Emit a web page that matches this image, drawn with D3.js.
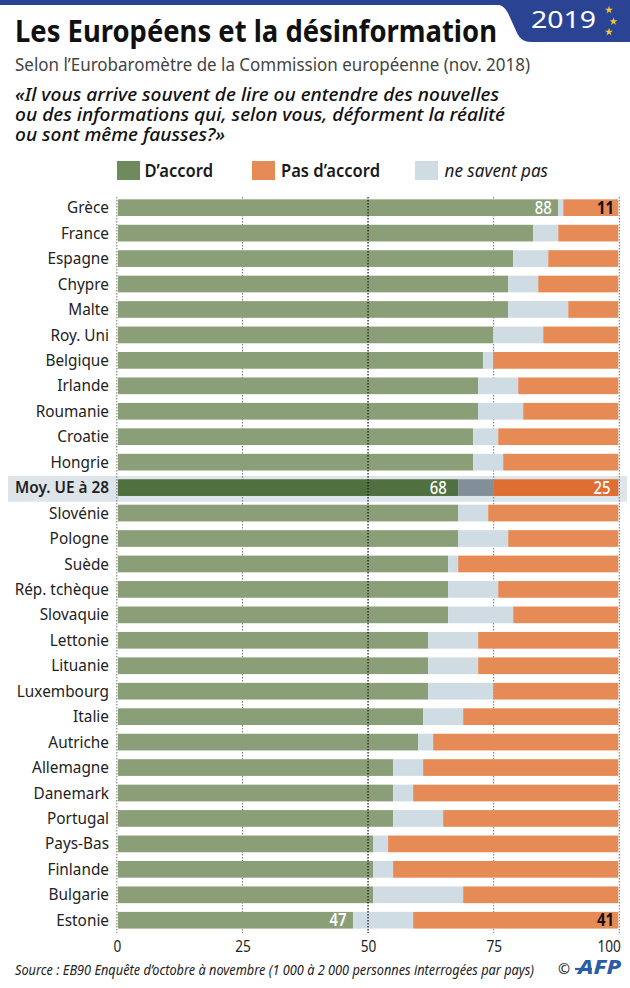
<!DOCTYPE html>
<html lang="fr">
<head>
<meta charset="utf-8">
<script src="https://cdn.jsdelivr.net/npm/d3@7"></script>
<style>
  html, body { margin: 0; padding: 0; background: #fff; }
  svg { display: block; }
  text { font-family: "Noto Sans", sans-serif; }
</style>
</head>
<body>
<div id="chart"></div>
<script>
// Values
const countries = ["Grèce", "France", "Espagne", "Chypre", "Malte", "Roy. Uni", "Belgique", "Irlande", "Roumanie", "Croatie", "Hongrie", "Moy. UE à 28", "Slovénie", "Pologne", "Suède", "Rép. tchèque", "Slovaquie", "Lettonie", "Lituanie", "Luxembourg", "Italie", "Autriche", "Allemagne", "Danemark", "Portugal", "Pays-Bas", "Finlande", "Bulgarie", "Estonie"];
const agree = [88, 83, 79, 78, 78, 75, 73, 72, 72, 71, 71, 68, 68, 68, 66, 66, 66, 62, 62, 62, 61, 60, 55, 55, 55, 51, 51, 51, 47];
const dontKnow = [1, 5, 7, 6, 12, 10, 2, 8, 9, 5, 6, 7, 6, 10, 2, 10, 13, 10, 10, 13, 8, 3, 6, 4, 10, 3, 4, 18, 12];
const disagree = [11, 12, 14, 16, 10, 15, 25, 20, 19, 24, 23, 25, 26, 22, 32, 24, 21, 28, 28, 25, 31, 37, 39, 41, 35, 46, 45, 31, 41];
const labelled = ["Grèce", "Moy. UE à 28", "Estonie"];
const average = "Moy. UE à 28";
const ticks = [0, 25, 50, 75, 100];
const seriesNames = ["D’accord", "Pas d’accord", "ne savent pas"];
const questionLines = ["«Il vous arrive souvent de lire ou entendre des nouvelles", "ou des informations qui, selon vous, déforment la réalité", "ou sont même fausses?»"];

const width = 630, height = 988;
const svg = d3.select("#chart").append("svg").attr("width", width).attr("height", height);

const x = d3.scaleLinear().domain([0, 100]).range([117.9, 618.3]);
const gridX = d3.scaleLinear().domain([0, 100]).range([116.8, 619.3]);
const y = d3.scaleBand().domain(countries).range([194.95, 932.97]).paddingInner(0.344).paddingOuter(0.172);

const colors = { agree: "#8a9f78", dk: "#d0dce3", dis: "#e68a56" };
const avgColors = { agree: "#50703f", dk: "#838f98", dis: "#df6e33" };

// Helper: text squeezed to a measured width, the installed fonts are wider than the original one
function fitted(parent, str, px, py, size, w, opts = {}) {
  return parent.append("text")
    .attr("x", px).attr("y", py)
    .attr("font-size", size)
    .attr("font-weight", opts.weight || 400)
    .attr("font-style", opts.style || "normal")
    .attr("font-family", opts.family || null)
    .attr("fill", opts.fill || "#1a1a1a")
    .attr("text-anchor", opts.anchor || "start")
    .attr("textLength", w)
    .attr("lengthAdjust", "spacingAndGlyphs")
    .text(str);
}

// Same thing, but keeps a fixed share of the natural width
function squeeze(sel, ratio) {
  sel.each(function() {
    const len = this.getComputedTextLength();
    d3.select(this).attr("textLength", len * ratio).attr("lengthAdjust", "spacingAndGlyphs");
  });
}

// Header band
svg.append("rect").attr("width", width).attr("height", 5).attr("fill", "#2b4393");
svg.append("path")
  .attr("d", "M496,4 Q504,5 508,13 L517,33 Q521,42 531,42 L630,42 L630,4 Z")
  .attr("fill", "#2b4393");
fitted(svg, "2019", 531, 28, 24, 65, { family: "Lato", fill: "#fff" });
const star = d3.symbol().type(d3.symbolStar).size(20);
[[609, 10], [613.5, 21.5], [609, 32]].forEach(p => {
  svg.append("path").attr("d", star).attr("transform", `translate(${p[0]},${p[1]})`).attr("fill", "#f4c92f");
});

fitted(svg, "Les Européens et la désinformation", 15, 42, 30, 482, { weight: 700, fill: "#111" });
fitted(svg, "Selon l’Eurobaromètre de la Commission européenne (nov. 2018)", 15, 71, 18.5, 515, { fill: "#444" });

const questionWidths = [484, 490, 210];
questionLines.forEach((line, i) => {
  fitted(svg, line, 15, 101 + i * 20.2, 18.5, questionWidths[i], { style: "italic", weight: 500, fill: "#111" });
});

// Legend
const legendX = [117, 252, 415];
const legendTextX = [144.5, 281, 444.5];
const legendW = [68.5, 99, 103.5];
const legendFill = ["#6f8a5d", colors.dis, colors.dk];
seriesNames.forEach((name, i) => {
  svg.append("rect").attr("x", legendX[i]).attr("y", 161).attr("width", 23).attr("height", 19).attr("fill", legendFill[i]);
  fitted(svg, name, legendTextX[i], 176.7, 17.5, legendW[i], {
    weight: i < 2 ? 600 : 400, style: i === 2 ? "italic" : "normal"
  });
});

// Highlight band of the EU average, behind everything else
svg.append("rect")
  .attr("x", 8).attr("width", 619)
  .attr("y", y(average) - 3.2).attr("height", y.bandwidth() + 9)
  .attr("fill", "#dde5ea");

// Dotted grid lines, only the 50 line goes over the bars
function gridLine(t) {
  svg.append("line")
    .attr("x1", gridX(t)).attr("x2", gridX(t))
    .attr("y1", 197).attr("y2", 933)
    .attr("stroke", t === 50 ? "#222" : "#666")
    .attr("stroke-width", t === 50 ? 1.3 : 0.9)
    .attr("stroke-dasharray", "1.5 1.5");
}
ticks.filter(t => t !== 50).forEach(gridLine);

// Bars
const rows = svg.append("g").selectAll("g").data(countries).enter().append("g");
rows.each(function(c, i) {
  const row = d3.select(this);
  const pal = c === average ? avgColors : colors;
  const parts = [
    [0, agree[i], pal.agree],
    [agree[i], agree[i] + dontKnow[i], pal.dk],
    [agree[i] + dontKnow[i], 100, pal.dis]
  ];
  parts.forEach(p => {
    row.append("rect")
      .attr("x", x(p[0])).attr("width", x(p[1]) - x(p[0]))
      .attr("y", y(c)).attr("height", y.bandwidth())
      .attr("fill", p[2]);
  });
});

gridLine(50);

// Country labels
rows.append("text")
  .attr("class", "country")
  .attr("x", 109)
  .attr("y", c => y(c) + y.bandwidth() / 2 + 5.6)
  .attr("text-anchor", "end")
  .attr("font-size", 16.5)
  .attr("font-weight", c => c === average ? 600 : 400)
  .attr("fill", "#222")
  .text(c => c);
squeeze(svg.selectAll("text.country"), 0.93);

// Value labels on the highlighted rows
labelled.forEach(c => {
  const i = countries.indexOf(c);
  const cy = y(c) + y.bandwidth() / 2 + 6;
  const isAvg = c === average;
  const left = svg.append("text").attr("x", x(agree[i]) - (isAvg ? 11.5 : 6.5)).attr("y", cy)
    .attr("text-anchor", "end").attr("font-size", 17.5).attr("font-weight", c === "Estonie" ? 600 : 500)
    .attr("fill", "#fff").text(agree[i]);
  const right = svg.append("text").attr("x", isAvg ? 610.5 : 614).attr("y", cy)
    .attr("text-anchor", "end").attr("font-size", 17.5)
    .attr("font-weight", isAvg ? 500 : 700)
    .attr("fill", isAvg ? "#fff" : "#111").text(disagree[i]);
  squeeze(left, 0.85);
  squeeze(right, 0.85);
});

// Axis
const axis = svg.append("g").attr("transform", "translate(0,936)")
  .call(d3.axisBottom(gridX).tickValues(ticks).tickSize(0).tickPadding(4.5));
axis.select(".domain").remove();
axis.selectAll("text").attr("font-size", 15.5).attr("fill", "#222").attr("font-family", "Noto Sans");
axis.selectAll(".tick:last-child text").attr("text-anchor", "end").attr("dx", 1);
squeeze(axis.selectAll("text"), 0.88);

// Footer
fitted(svg, "Source : EB90 Enquête d’octobre à novembre (1 000 à 2 000 personnes interrogées par pays)", 15, 975, 13.5, 519, { style: "italic", fill: "#222" });
svg.append("text").attr("x", 558).attr("y", 974).attr("font-size", 14.5).attr("fill", "#222").text("©");
svg.append("line").attr("x1", 575).attr("x2", 592).attr("y1", 969).attr("y2", 969)
  .attr("stroke", "#2b5ca8").attr("stroke-width", 2.2);
fitted(svg, "AFP", 578, 974, 20, 43, { weight: 800, style: "italic", fill: "#2b5ca8" });
</script>
</body>
</html>
